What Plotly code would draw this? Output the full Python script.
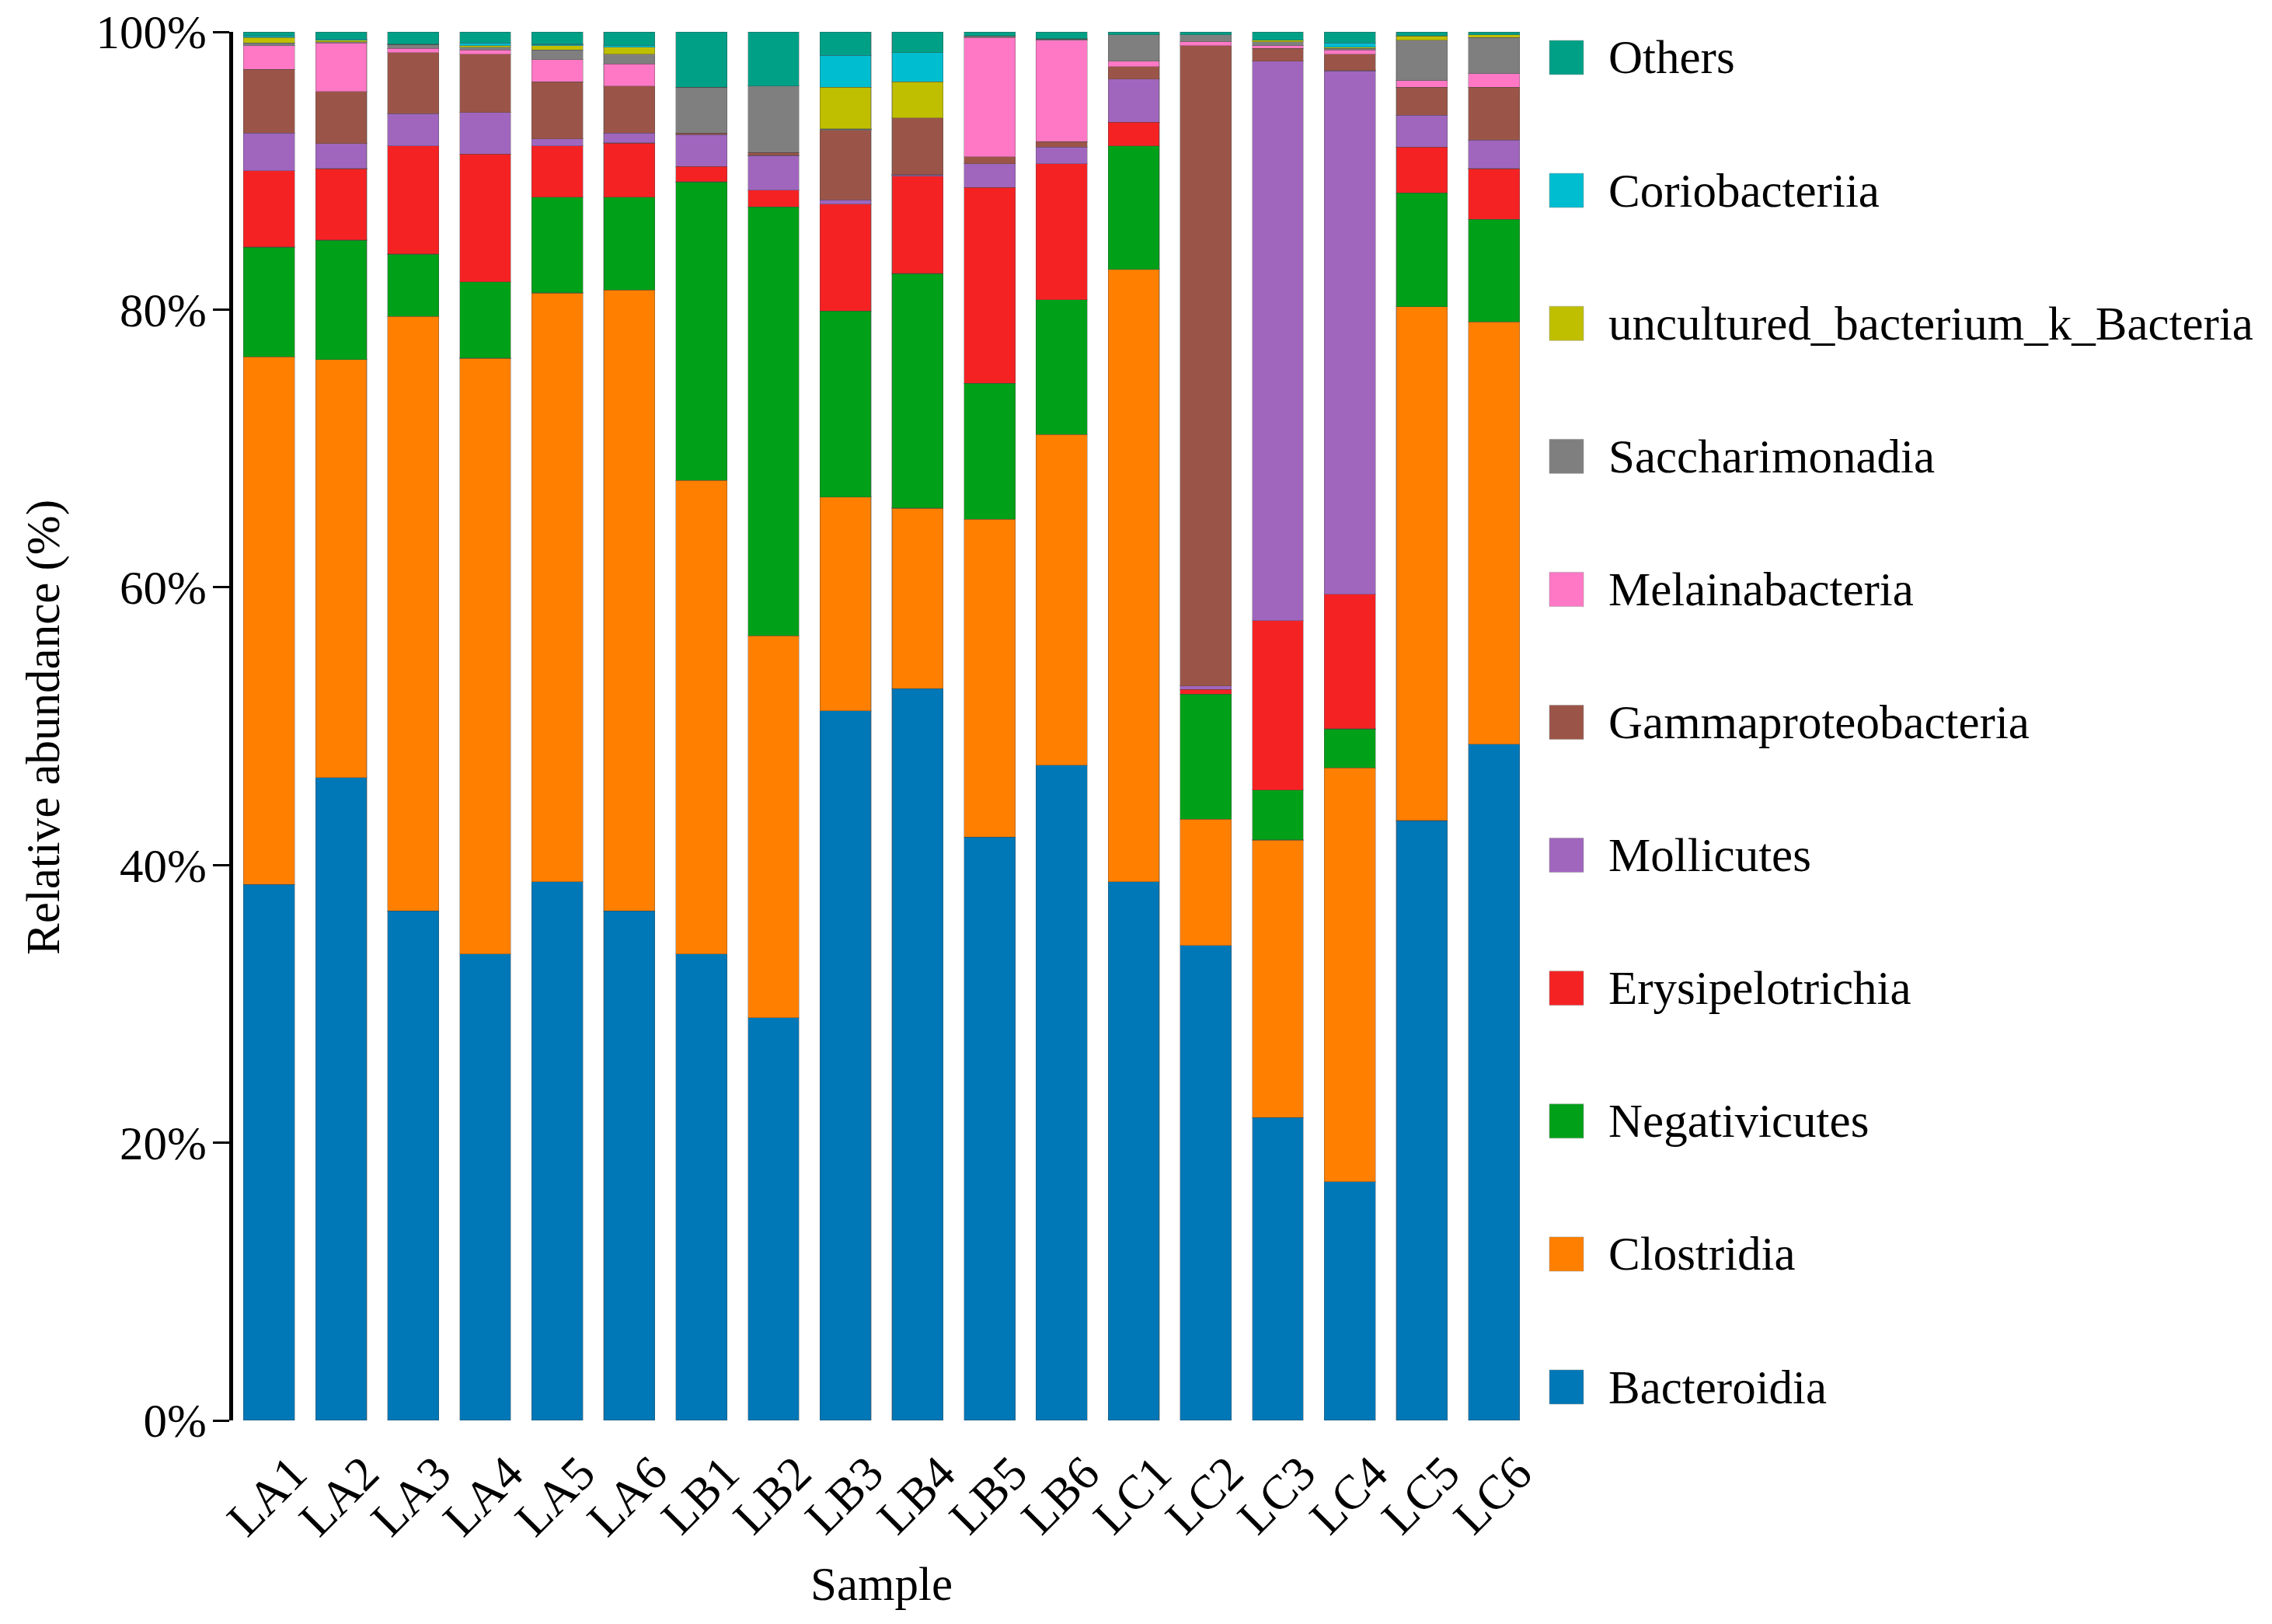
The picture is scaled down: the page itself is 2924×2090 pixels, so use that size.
import plotly.graph_objects as go

samples = ["LA1", "LA2", "LA3", "LA4", "LA5", "LA6", "LB1", "LB2", "LB3",
           "LB4", "LB5", "LB6", "LC1", "LC2", "LC3", "LC4", "LC5", "LC6"]

bacteroidia = [38.6, 46.3, 36.7, 33.6, 38.8, 36.7, 33.6, 29.0, 51.1, 52.7, 42.0, 47.2, 38.8, 34.2, 21.8, 17.2, 43.2, 48.7]
clostridia = [38.0, 30.1, 42.8, 42.9, 42.4, 44.7, 34.1, 27.5, 15.4, 13.0, 22.9, 23.8, 44.1, 9.1, 20.0, 29.8, 37.0, 30.4]
negativicutes = [7.9, 8.6, 4.5, 5.5, 6.9, 6.7, 21.5, 30.9, 13.4, 16.9, 9.8, 9.7, 8.9, 9.0, 3.6, 2.8, 8.2, 7.4]
erysipelotrichia = [5.5, 5.15, 7.8, 9.2, 3.7, 3.9, 1.1, 1.2, 7.7, 7.0, 14.1, 9.8, 1.7, 0.35, 12.2, 9.7, 3.3, 3.65]
mollicutes = [2.7, 1.8, 2.3, 3.0, 0.5, 0.7, 2.3, 2.5, 0.3, 0.1, 1.7, 1.2, 3.1, 0.25, 40.3, 37.7, 2.3, 2.05]
gammaproteobacteria = [4.6, 3.75, 4.4, 4.2, 4.1, 3.4, 0.1, 0.2, 5.0, 4.1, 0.5, 0.4, 0.9, 46.1, 0.9, 1.2, 2.0, 3.8]
melainabacteria = [1.7, 3.5, 0.3, 0.3, 1.6, 1.6, 0.0, 0.0, 0.0, 0.0, 8.6, 7.3, 0.4, 0.3, 0.2, 0.3, 0.5, 1.0]
saccharimonadia = [0.2, 0.1, 0.3, 0.2, 0.7, 0.7, 3.3, 4.8, 0.1, 0.0, 0.1, 0.1, 1.9, 0.5, 0.3, 0.1, 2.9, 2.6]
uncultured = [0.4, 0.1, 0.0, 0.1, 0.3, 0.5, 0.0, 0.0, 3.0, 2.6, 0.0, 0.0, 0.0, 0.0, 0.1, 0.1, 0.3, 0.2]
coriobacteriia = [0.1, 0.05, 0.0, 0.2, 0.1, 0.1, 0.0, 0.0, 2.3, 2.1, 0.0, 0.0, 0.0, 0.0, 0.0, 0.3, 0.0, 0.0]
others = [0.3, 0.55, 0.9, 0.8, 0.9, 1.0, 4.0, 3.9, 1.7, 1.5, 0.3, 0.5, 0.2, 0.2, 0.6, 0.8, 0.3, 0.2]

series_names = ["Bacteroidia", "Clostridia", "Negativicutes", "Erysipelotrichia",
                "Mollicutes", "Gammaproteobacteria", "Melainabacteria",
                "Saccharimonadia", "uncultured_bacterium_k_Bacteria",
                "Coriobacteriia", "Others"]
series_values = [bacteroidia, clostridia, negativicutes, erysipelotrichia,
                 mollicutes, gammaproteobacteria, melainabacteria,
                 saccharimonadia, uncultured, coriobacteriia, others]
series_colors = ["#0077B6", "#FF7F00", "#00A018", "#F52224", "#A066BE",
                 "#9B5548", "#FF78C5", "#7F7F7F", "#BFBF00", "#00BDD0", "#00A087"]

ytick_vals = [0, 20, 40, 60, 80, 100]
ytick_text = ["0%", "20%", "40%", "60%", "80%", "100%"]
x_title = "Sample"
y_title = "Relative abundance (%)"

OFF = 8                      # page body margin
W, H = 2924 - 2 * OFF, 2090 - 2 * OFF
FONT = "Liberation Serif, Times New Roman, serif"


def px(v):
    return (v - OFF) / W


def py(v):
    return 1 - (v - OFF) / H


fig = go.Figure()
for name, vals, col in zip(series_names, series_values, series_colors):
    fig.add_trace(go.Bar(
        x=samples, y=vals, name=name, showlegend=False,
        marker=dict(color=col, line=dict(color="rgba(70,70,70,0.35)", width=1.2)),
    ))

# legend built as swatches + text (top to bottom: reverse stacking order)
leg_x0, leg_sw, leg_tx = 1994, 44, 2068
leg_top, leg_step = 74, 171.1
for i, (name, col) in enumerate(zip(series_names[::-1], series_colors[::-1])):
    cy = leg_top + i * leg_step
    fig.add_shape(type="rect", xref="paper", yref="paper",
                  x0=px(leg_x0), x1=px(leg_x0 + leg_sw),
                  y0=py(cy - leg_sw / 2), y1=py(cy + leg_sw / 2),
                  fillcolor=col, line=dict(color="rgba(150,150,150,0.5)", width=1))
    fig.add_annotation(text=name, xref="paper", yref="paper",
                       x=px(leg_tx), y=py(cy), xanchor="left", yanchor="middle",
                       showarrow=False, font=dict(family=FONT, size=61, color="black"))

# axis titles
fig.add_annotation(text=x_title, xref="paper", yref="paper",
                   x=px(1134), y=py(2038), xanchor="center", yanchor="middle",
                   showarrow=False, font=dict(family=FONT, size=61, color="black"))
fig.add_annotation(text=y_title, xref="paper", yref="paper", textangle=-90,
                   x=px(56), y=py(936), xanchor="center", yanchor="middle",
                   showarrow=False, font=dict(family=FONT, size=61, color="black"))

fig.update_layout(
    width=W, height=H,
    margin=dict(l=0, r=0, t=0, b=0, autoexpand=False),
    barmode="stack", bargap=0.29,
    paper_bgcolor="white", plot_bgcolor="white",
    font=dict(family=FONT, size=60, color="black"),
    xaxis=dict(
        domain=[px(300), px(1969)],
        range=[-0.5, 17.5],
        showline=False, ticks="", showgrid=False, zeroline=False,
        tickangle=-45, tickfont=dict(family=FONT, size=62, color="black"),
        ticklabelshift=30, ticklabelstandoff=18,
        automargin=False,
    ),
    yaxis=dict(
        domain=[py(1828), py(41)],
        range=[0, 100],
        tickvals=ytick_vals, ticktext=ytick_text,
        showline=True, linecolor="black", linewidth=5,
        ticks="outside", ticklen=21, tickwidth=3, tickcolor="black",
        showgrid=False, zeroline=False,
        tickfont=dict(family=FONT, size=61, color="black"),
        ticklabelstandoff=-4, ticklabeloverflow="allow",
        automargin=False,
    ),
)

fig.write_html("out.html")
